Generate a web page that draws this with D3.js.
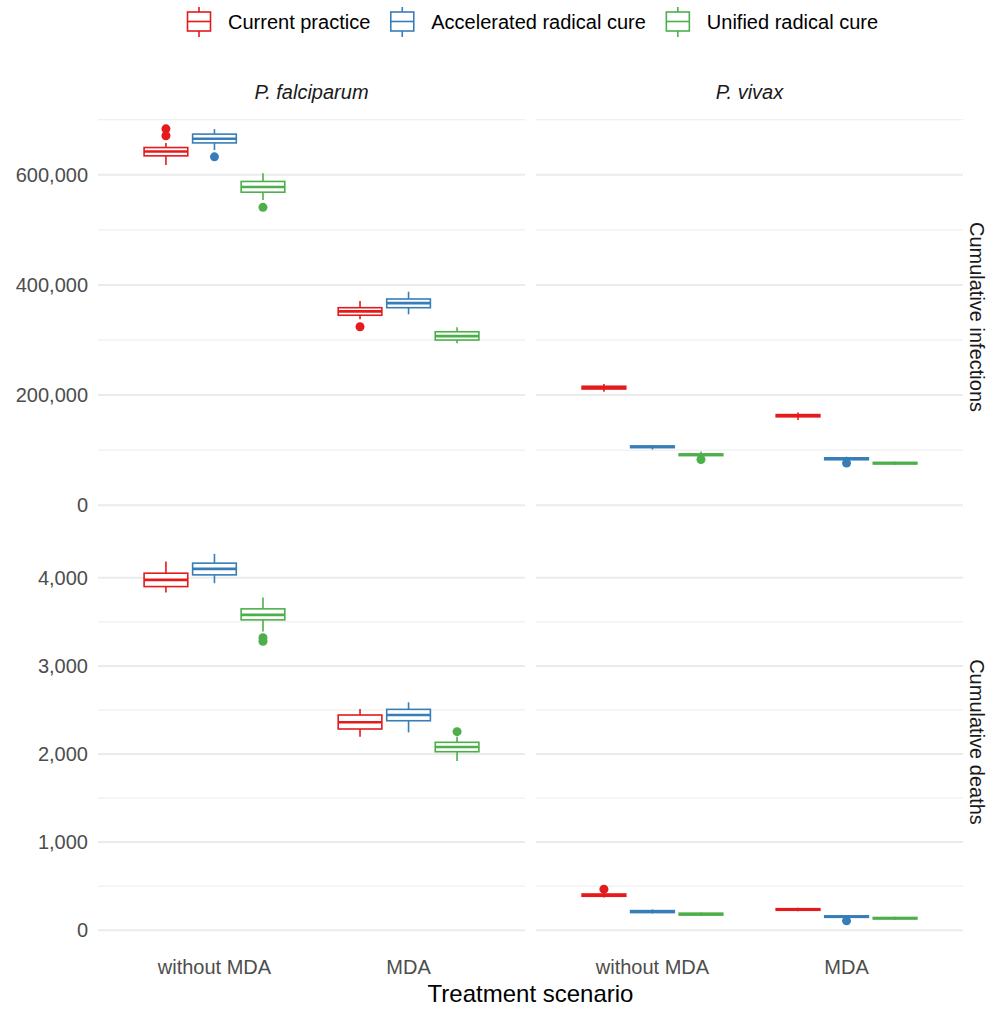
<!DOCTYPE html>
<html>
<head>
<meta charset="utf-8">
<script src="https://cdn.jsdelivr.net/npm/d3@7"></script>
<style>
	body { margin: 0; background: #fff; }
	svg { display: block; font-family: "Liberation Sans", Arial, sans-serif; }
</style>
</head>
<body>
<div id="chart"></div>
<script>
	var species = ["P. falciparum", "P. vivax"];
	var measures = ["Cumulative infections", "Cumulative deaths"];
	var scenarios = ["without MDA", "MDA"];
	var strategies = ["Current practice", "Accelerated radical cure", "Unified radical cure"];
	var colors = ["#E41A1C", "#377EB8", "#4DAF4A"];

	var infectionTicks = [0, 200000, 400000, 600000];
	var deathTicks = [0, 1000, 2000, 3000, 4000];

	//  box stats: [scenario][strategy] = [whisker low, q1, median, q3, whisker high]
	var pfInfections = [
		[[618000, 634500, 642500, 649600, 658000], [645000, 658000, 665500, 674000, 683000], [554500, 568500, 578000, 588000, 603000]],
		[[337600, 345000, 352000, 358700, 371000], [346700, 358700, 367000, 374500, 387800], [294000, 300000, 307000, 315000, 323000]]
	];
	var pfInfectionsOut = [[[683600, 671000], [632700], [541000]], [[324000], [], []]];

	var pvInfections = [
		[[206000, 211000, 213500, 216000, 220000], [101000, 104500, 106000, 107500, 109000], [86000, 90000, 91500, 93000, 97500]],
		[[154500, 160500, 162400, 164500, 168500], [79000, 82500, 84200, 86000, 88000], [73500, 75000, 76400, 77500, 79000]]
	];
	var pvInfectionsOut = [[[], [], [83000]], [[], [76400], []]];

	var pfDeaths = [
		[[3833, 3901, 3977, 4053, 4185], [3939, 4034, 4102, 4167, 4273], [3390, 3523, 3580, 3648, 3776]],
		[[2197, 2284, 2360, 2443, 2511], [2246, 2378, 2443, 2507, 2587], [1920, 2026, 2080, 2133, 2197]]
	];
	var pfDeathsOut = [[[], [], [3320, 3280]], [[], [], [2254]]];

	var pvDeaths = [
		[[370, 385, 398, 410, 430], [190, 200, 212, 222, 235], [160, 172, 182, 192, 200]],
		[[215, 226, 235, 244, 255], [130, 146, 155, 162, 172], [118, 128, 136, 144, 152]]
	];
	var pvDeathsOut = [[[466], [], []], [[], [106], []]];

	var panels = [
		{row: 0, col: 0, stats: pfInfections, out: pfInfectionsOut},
		{row: 0, col: 1, stats: pvInfections, out: pvInfectionsOut},
		{row: 1, col: 0, stats: pfDeaths, out: pfDeathsOut},
		{row: 1, col: 1, stats: pvDeaths, out: pvDeathsOut}
	];

	var W = 992, H = 1009;
	var panelLeft = 98, panelW = 427, panelGapX = 11;
	var panelTop = 110, panelH = 414, panelGapY = 11;
	var grey = "#EBEBEB", axisText = "#4D4D4D";
	var fontSize = 20;

	var svg = d3.select("#chart").append("svg")
		.attr("width", W)
		.attr("height", H);

	function colX(c) { return panelLeft + c * (panelW + panelGapX); }
	function rowY(r) { return panelTop + r * (panelH + panelGapY); }

	//  y scale per row, free scales with zero included and 5% expansion
	var yScales = [0, 1].map(function(r) {
		var vals = [0];
		panels.filter(function(p) { return p.row === r; }).forEach(function(p) {
			p.stats.forEach(function(s) { s.forEach(function(b) { vals = vals.concat(b); }); });
			p.out.forEach(function(s) { s.forEach(function(o) { vals = vals.concat(o); }); });
		});
		var lo = d3.min(vals), hi = d3.max(vals), pad = (hi - lo) * 0.05;
		return d3.scaleLinear().domain([lo - pad, hi + pad]).range([rowY(r) + panelH, rowY(r)]);
	});
	var rowTicks = [infectionTicks, deathTicks];

	var xScales = [0, 1].map(function(c) {
		return d3.scaleLinear().domain([0.4, 2.6]).range([colX(c), colX(c) + panelW]);
	});

	var fmt = d3.format(",");
	var dodge = 0.25, boxW = 0.225;

	panels.forEach(function(p) {
		var x = xScales[p.col], y = yScales[p.row];
		var g = svg.append("g");
		var x0 = colX(p.col), x1 = x0 + panelW;
		var ticks = rowTicks[p.row];
		var step = ticks[1] - ticks[0];
		//  minor grid
		var dom = y.domain();
		var minor = d3.range(ticks[0] - step / 2, dom[1], step).filter(function(v) { return v > dom[0]; });
		g.selectAll(".minor").data(minor).enter().append("line")
			.attr("x1", x0).attr("x2", x1)
			.attr("y1", function(d) { return y(d); }).attr("y2", function(d) { return y(d); })
			.attr("stroke", grey).attr("stroke-width", 1);
		g.selectAll(".major").data(ticks).enter().append("line")
			.attr("x1", x0).attr("x2", x1)
			.attr("y1", function(d) { return y(d); }).attr("y2", function(d) { return y(d); })
			.attr("stroke", grey).attr("stroke-width", 2);

		p.stats.forEach(function(scen, si) {
			scen.forEach(function(b, k) {
				var cx = x(si + 1 + (k - 1) * dodge);
				var half = (x(boxW) - x(0)) / 2;
				var col = colors[k];
				var bg = g.append("g");
				bg.append("line").attr("x1", cx).attr("x2", cx)
					.attr("y1", y(b[3])).attr("y2", y(b[4]))
					.attr("stroke", col).attr("stroke-width", 1.6);
				bg.append("line").attr("x1", cx).attr("x2", cx)
					.attr("y1", y(b[1])).attr("y2", y(b[0]))
					.attr("stroke", col).attr("stroke-width", 1.6);
				bg.append("rect")
					.attr("x", cx - half).attr("width", half * 2)
					.attr("y", y(b[3])).attr("height", y(b[1]) - y(b[3]))
					.attr("fill", "#fff").attr("stroke", col).attr("stroke-width", 1.6);
				bg.append("line").attr("x1", cx - half).attr("x2", cx + half)
					.attr("y1", y(b[2])).attr("y2", y(b[2]))
					.attr("stroke", col).attr("stroke-width", 2.6);
				bg.selectAll("circle").data(p.out[si][k]).enter().append("circle")
					.attr("cx", cx).attr("cy", function(d) { return y(d); })
					.attr("r", 4.5).attr("fill", col);
			});
		});
	});

	//  y axis labels
	[0, 1].forEach(function(r) {
		svg.append("g").selectAll("text").data(rowTicks[r]).enter().append("text")
			.attr("x", 88).attr("y", function(d) { return yScales[r](d); })
			.attr("dy", "0.35em")
			.attr("text-anchor", "end")
			.attr("font-size", fontSize)
			.attr("fill", axisText)
			.text(function(d) { return fmt(d); });
	});

	//  x axis labels
	[0, 1].forEach(function(c) {
		svg.append("g").selectAll("text").data(scenarios).enter().append("text")
			.attr("x", function(d, i) { return xScales[c](i + 1); })
			.attr("y", 974)
			.attr("text-anchor", "middle")
			.attr("font-size", fontSize)
			.attr("fill", axisText)
			.text(function(d) { return d; });
	});

	svg.append("text")
		.attr("x", (colX(0) + colX(1) + panelW) / 2)
		.attr("y", 1002)
		.attr("text-anchor", "middle")
		.attr("font-size", 24)
		.attr("fill", "#000")
		.text("Treatment scenario");

	//  strips
	species.forEach(function(s, c) {
		svg.append("text")
			.attr("x", colX(c) + panelW / 2)
			.attr("y", 99)
			.attr("text-anchor", "middle")
			.attr("font-size", fontSize)
			.attr("font-style", "italic")
			.attr("fill", "#1A1A1A")
			.text(s);
	});
	measures.forEach(function(m, r) {
		var cx = 977, cy = rowY(r) + panelH / 2;
		svg.append("text")
			.attr("transform", "translate(" + cx + "," + cy + ") rotate(90)")
			.attr("text-anchor", "middle")
			.attr("dy", "0.35em")
			.attr("font-size", fontSize)
			.attr("fill", "#1A1A1A")
			.text(m);
	});

	//  legend
	var legend = svg.append("g").attr("class", "legend");
	var lx = 184;
	strategies.forEach(function(s, k) {
		var item = legend.append("g").attr("transform", "translate(" + lx + ",0)");
		var col = colors[k];
		item.append("line").attr("x1", 15).attr("x2", 15).attr("y1", 7).attr("y2", 37)
			.attr("stroke", col).attr("stroke-width", 1.6);
		item.append("rect").attr("x", 3.5).attr("y", 12).attr("width", 23).attr("height", 19)
			.attr("fill", "#fff").attr("stroke", col).attr("stroke-width", 1.6);
		item.append("line").attr("x1", 3.5).attr("x2", 26.5).attr("y1", 21.5).attr("y2", 21.5)
			.attr("stroke", col).attr("stroke-width", 1.6);
		var t = item.append("text")
			.attr("x", 44).attr("y", 22).attr("dy", "0.35em")
			.attr("font-size", fontSize)
			.attr("fill", "#000")
			.text(s);
		lx += 44 + t.node().getComputedTextLength() + 17;
	});
</script>
</body>
</html>
